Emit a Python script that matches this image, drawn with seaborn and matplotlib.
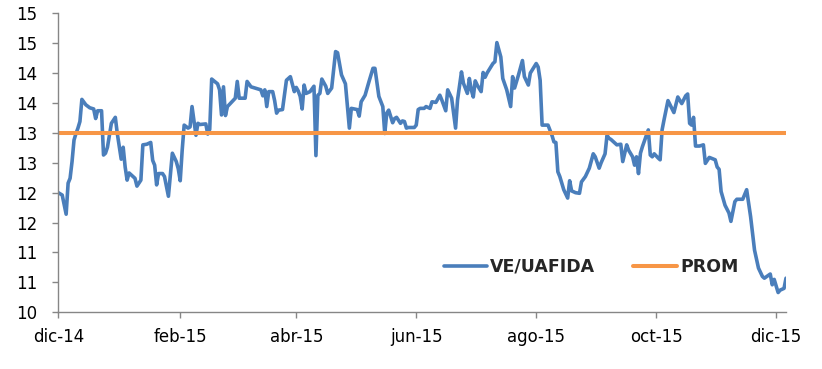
import pandas as pd
import matplotlib
matplotlib.use('Agg')
import matplotlib.pyplot as plt
import seaborn as sns

# VE/UAFIDA series
dates = [
    '2014-12-01', '2014-12-03', '2014-12-05', '2014-12-06', '2014-12-07', '2014-12-08', '2014-12-09',
    '2014-12-10', '2014-12-11', '2014-12-12', '2014-12-13', '2014-12-15', '2014-12-17', '2014-12-19',
    '2014-12-20', '2014-12-21', '2014-12-23', '2014-12-24', '2014-12-25', '2014-12-26', '2014-12-28',
    '2014-12-30', '2014-12-31', '2015-01-02', '2015-01-03', '2015-01-04', '2015-01-05', '2015-01-06',
    '2015-01-09', '2015-01-10', '2015-01-12', '2015-01-13', '2015-01-15', '2015-01-17', '2015-01-18',
    '2015-01-19', '2015-01-20', '2015-01-21', '2015-01-23', '2015-01-24', '2015-01-26', '2015-01-28',
    '2015-01-30', '2015-01-31', '2015-02-01', '2015-02-02', '2015-02-03', '2015-02-05', '2015-02-06',
    '2015-02-07', '2015-02-09', '2015-02-10', '2015-02-11', '2015-02-14', '2015-02-15', '2015-02-16',
    '2015-02-17', '2015-02-20', '2015-02-21', '2015-02-22', '2015-02-23', '2015-02-24', '2015-02-25',
    '2015-02-27', '2015-03-01', '2015-03-02', '2015-03-03', '2015-03-06', '2015-03-07', '2015-03-09',
    '2015-03-12', '2015-03-14', '2015-03-15', '2015-03-16', '2015-03-17', '2015-03-18', '2015-03-20',
    '2015-03-21', '2015-03-22', '2015-03-23', '2015-03-25', '2015-03-27', '2015-03-29', '2015-03-31',
    '2015-04-01', '2015-04-02', '2015-04-03', '2015-04-04', '2015-04-05', '2015-04-06', '2015-04-08',
    '2015-04-10', '2015-04-11', '2015-04-12', '2015-04-13', '2015-04-14', '2015-04-16', '2015-04-17',
    '2015-04-19', '2015-04-21', '2015-04-22', '2015-04-24', '2015-04-26', '2015-04-28', '2015-04-29',
    '2015-05-02', '2015-05-03', '2015-05-04', '2015-05-06', '2015-05-08', '2015-05-10', '2015-05-11',
    '2015-05-13', '2015-05-15', '2015-05-16', '2015-05-17', '2015-05-18', '2015-05-20', '2015-05-21',
    '2015-05-22', '2015-05-24', '2015-05-25', '2015-05-26', '2015-05-27', '2015-05-28', '2015-05-31',
    '2015-06-01', '2015-06-02', '2015-06-03', '2015-06-04', '2015-06-05', '2015-06-06', '2015-06-08',
    '2015-06-09', '2015-06-11', '2015-06-13', '2015-06-14', '2015-06-16', '2015-06-17', '2015-06-19',
    '2015-06-21', '2015-06-22', '2015-06-24', '2015-06-25', '2015-06-27', '2015-06-28', '2015-06-29',
    '2015-06-30', '2015-07-01', '2015-07-02', '2015-07-04', '2015-07-05', '2015-07-06', '2015-07-07',
    '2015-07-10', '2015-07-11', '2015-07-12', '2015-07-14', '2015-07-15', '2015-07-17', '2015-07-19',
    '2015-07-20', '2015-07-21', '2015-07-23', '2015-07-25', '2015-07-26', '2015-07-28', '2015-07-29',
    '2015-08-01', '2015-08-02', '2015-08-03', '2015-08-04', '2015-08-05', '2015-08-07', '2015-08-09',
    '2015-08-10', '2015-08-11', '2015-08-12', '2015-08-13', '2015-08-14', '2015-08-15', '2015-08-17',
    '2015-08-18', '2015-08-19', '2015-08-21', '2015-08-23', '2015-08-24', '2015-08-26', '2015-08-28',
    '2015-08-30', '2015-08-31', '2015-09-02', '2015-09-03', '2015-09-05', '2015-09-06', '2015-09-07',
    '2015-09-08', '2015-09-10', '2015-09-11', '2015-09-13', '2015-09-14', '2015-09-16', '2015-09-17',
    '2015-09-19', '2015-09-20', '2015-09-21', '2015-09-22', '2015-09-23', '2015-09-24', '2015-09-27',
    '2015-09-28', '2015-09-29', '2015-09-30', '2015-10-02', '2015-10-03', '2015-10-04', '2015-10-05',
    '2015-10-07', '2015-10-10', '2015-10-12', '2015-10-14', '2015-10-16', '2015-10-17', '2015-10-18',
    '2015-10-19', '2015-10-20', '2015-10-21', '2015-10-23', '2015-10-25', '2015-10-26', '2015-10-28',
    '2015-10-31', '2015-11-01', '2015-11-02', '2015-11-03', '2015-11-05', '2015-11-07', '2015-11-08',
    '2015-11-10', '2015-11-11', '2015-11-14', '2015-11-16', '2015-11-18', '2015-11-20', '2015-11-22',
    '2015-11-24', '2015-11-25', '2015-11-28', '2015-11-29', '2015-11-30', '2015-12-02', '2015-12-03',
    '2015-12-05', '2015-12-06',
]
ve_uafida = [
    12.00, 11.96, 11.64, 12.16, 12.24, 12.52, 12.88,
    12.99, 13.08, 13.19, 13.56, 13.47, 13.42, 13.40,
    13.24, 13.37, 13.37, 12.63, 12.66, 12.76, 13.16,
    13.26, 12.99, 12.56, 12.76, 12.43, 12.21, 12.33,
    12.24, 12.11, 12.21, 12.80, 12.81, 12.84, 12.54,
    12.46, 12.13, 12.32, 12.32, 12.27, 11.94, 12.66,
    12.52, 12.40, 12.20, 12.71, 13.13, 13.08, 13.10,
    13.44, 12.96, 13.16, 13.14, 13.15, 12.98, 13.06,
    13.90, 13.82, 13.72, 13.30, 13.77, 13.29, 13.44,
    13.51, 13.58, 13.86, 13.58, 13.58, 13.86, 13.77,
    13.74, 13.72, 13.62, 13.72, 13.44, 13.69, 13.69,
    13.54, 13.33, 13.38, 13.39, 13.88, 13.94, 13.69,
    13.76, 13.70, 13.61, 13.40, 13.80, 13.66, 13.69,
    13.78, 12.62, 13.63, 13.66, 13.90, 13.78, 13.66,
    13.75, 14.36, 14.34, 13.97, 13.82, 13.08, 13.41,
    13.39, 13.28, 13.52, 13.63, 13.86, 14.08, 14.08,
    13.61, 13.44, 12.99, 13.33, 13.38, 13.17, 13.24,
    13.26, 13.16, 13.20, 13.19, 13.08, 13.09, 13.09,
    13.13, 13.39, 13.41, 13.41, 13.41, 13.44, 13.41,
    13.52, 13.51, 13.63, 13.55, 13.37, 13.72, 13.58,
    13.08, 13.55, 14.02, 13.83, 13.66, 13.91, 13.72,
    13.60, 13.87, 13.80, 13.69, 14.01, 13.93, 14.00,
    14.16, 14.19, 14.51, 14.27, 13.91, 13.72, 13.44,
    13.94, 13.75, 13.97, 14.21, 13.94, 13.80, 14.00,
    14.16, 14.10, 13.88, 13.13, 13.13, 13.13, 12.96,
    12.85, 12.84, 12.35, 12.27, 12.16, 12.05, 11.91,
    12.20, 12.03, 12.00, 11.99, 12.18, 12.27, 12.41,
    12.65, 12.60, 12.41, 12.50, 12.65, 12.96, 12.91,
    12.89, 12.83, 12.80, 12.81, 12.52, 12.80, 12.71,
    12.60, 12.46, 12.60, 12.32, 12.66, 12.77, 13.05,
    12.63, 12.60, 12.65, 12.58, 12.55, 13.05, 13.22,
    13.54, 13.34, 13.60, 13.49, 13.62, 13.65, 13.16,
    13.13, 13.26, 12.78, 12.78, 12.80, 12.49, 12.59,
    12.55, 12.43, 12.39, 12.02, 11.79, 11.66, 11.52,
    11.85, 11.89, 11.89, 12.05, 11.60, 11.04, 10.74,
    10.60, 10.57, 10.64, 10.46, 10.55, 10.33, 10.37,
    10.40, 10.57,
]
prom_value = 13.0

x_tick_dates = ['2014-12-01', '2015-02-01', '2015-04-01', '2015-06-01',
                '2015-08-01', '2015-10-01', '2015-12-01']
x_tick_labels = ['dic-14', 'feb-15', 'abr-15', 'jun-15', 'ago-15', 'oct-15', 'dic-15']
y_ticks = [10, 10.5, 11, 11.5, 12, 12.5, 13, 13.5, 14, 14.5, 15]
y_tick_labels = ['10', '11', '11', '12', '12', '13', '13', '14', '14', '15', '15']

df = pd.DataFrame({'fecha': pd.to_datetime(dates), 'VE/UAFIDA': ve_uafida})
df['PROM'] = prom_value

sns.set_style('white')
plt.rcParams['font.family'] = ['DejaVu Sans']

fig = plt.figure(figsize=(8.22, 3.69), dpi=100)
ax = fig.add_axes([0.0709, 0.1537, 0.8853, 0.8103])

sns.lineplot(data=df, x='fecha', y='VE/UAFIDA', color='#4A7EBB', linewidth=2.6,
             label='VE/UAFIDA', ax=ax)
sns.lineplot(data=df, x='fecha', y='PROM', color='#F79646', linewidth=2.9,
             label='PROM', ax=ax)

ax.set_xlim(pd.Timestamp('2014-12-01'), pd.Timestamp('2015-12-06'))
ax.set_ylim(10, 15)
ax.set_xticks(pd.to_datetime(x_tick_dates))
ax.set_xticklabels(x_tick_labels)
ax.set_yticks(y_ticks)
ax.set_yticklabels(y_tick_labels)
ax.set_xlabel('')
ax.set_ylabel('')

for side in ['top', 'right']:
    ax.spines[side].set_visible(False)
for side in ['left', 'bottom']:
    ax.spines[side].set_color('#868686')
    ax.spines[side].set_linewidth(1.0)

ax.tick_params(axis='y', direction='out', length=4, width=1, color='#868686',
               pad=11, labelsize=12, labelcolor='black', left=True)
ax.tick_params(axis='x', direction='out', length=4, width=1, color='#868686',
               pad=7, labelsize=12, labelcolor='black', bottom=True)

ax.legend(loc='center', bbox_to_anchor=(0.732, 0.1525), ncol=2, frameon=False,
          prop={'weight': 'bold', 'size': 12.5}, handlelength=2.5,
          handletextpad=0.18, columnspacing=2.2)

plt.savefig('out.png', dpi=100)
